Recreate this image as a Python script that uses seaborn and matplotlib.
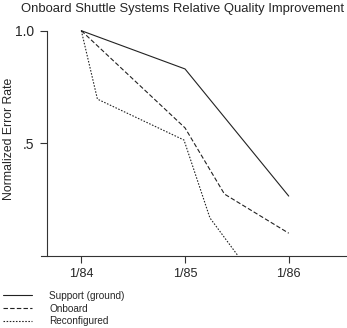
import matplotlib
matplotlib.use("Agg")
import matplotlib.pyplot as plt
import seaborn as sns
import pandas as pd

# ---- data ----
tick_pos = [0, 1, 2]
tick_labels = ["1/84", "1/85", "1/86"]
ytick_pos = [1.0, 0.5]
ytick_labels = ["1.0", ".5"]

support_x = [0, 1.0, 2.0]
support_y = [1.0, 0.83, 0.265]
onboard_x = [0, 1.0, 1.38, 2.0]
onboard_y = [1.0, 0.568, 0.274, 0.10]
reconf_x = [0, 0.155, 0.99, 1.24, 1.51]
reconf_y = [1.0, 0.696, 0.514, 0.168, 0.0]

series_names = ["Support (ground)", "Onboard", "Reconfigured"]

sns.set_style("white")
plt.rcParams['font.family'] = ['Liberation Sans', 'DejaVu Sans']

fig = plt.figure(figsize=(3.47, 3.28), dpi=100)
ax = fig.add_axes([41/347, (328-255.7)/328, (347-41)/347, 0.6997])

df_s = pd.DataFrame({"x": support_x, "y": support_y})
df_o = pd.DataFrame({"x": onboard_x, "y": onboard_y})
df_r = pd.DataFrame({"x": reconf_x, "y": reconf_y})

lw = 0.8
sns.lineplot(data=df_s, x="x", y="y", ax=ax, color="#222222", linewidth=lw,
             label=series_names[0], sort=False, clip_on=False)
sns.lineplot(data=df_o, x="x", y="y", ax=ax, color="#222222", linewidth=lw,
             label=series_names[1], sort=False, clip_on=False)
sns.lineplot(data=df_r, x="x", y="y", ax=ax, color="#222222", linewidth=lw,
             label=series_names[2], sort=False, clip_on=False)
lines = ax.get_lines()
lines[1].set_dashes([4, 2])
lines[2].set_dashes([1.4, 1.4])

ax.set_xlim(-0.389, 2.562)
ax.set_ylim(0, 1.02)
ax.set_xticks(tick_pos)
ax.set_xticklabels(tick_labels, fontsize=9.1)
ax.set_yticks(ytick_pos)
ax.set_yticklabels(ytick_labels, fontsize=9.1)
ax.set_xlabel("")
ax.set_ylabel("Normalized Error Rate", fontsize=8.8)
ax.yaxis.set_label_coords(-0.086, 0.508)

for s in ["top", "right"]:
    ax.spines[s].set_visible(False)
ax.spines["left"].set_position(("data", -0.334))
ax.spines["left"].set_bounds(0, 1.0)
for s in ["left", "bottom"]:
    ax.spines[s].set_color("#333333")
    ax.spines[s].set_linewidth(0.8)
ax.tick_params(axis="both", direction="out", length=5, width=0.8, color="#333333",
               pad=4, left=True, bottom=True)
ax.patch.set_alpha(0)

leg = ax.get_legend()
handles, labels = ax.get_legend_handles_labels()
leg.remove()
fig.legend(handles, labels, loc="lower left", bbox_to_anchor=(0.004, -0.001),
           frameon=False, fontsize=7.2, handlelength=2.9, handletextpad=1.7,
           labelspacing=0.27, borderaxespad=0.0, borderpad=0.2)

fig.suptitle("Onboard Shuttle Systems Relative Quality Improvement",
             fontsize=9.35, x=0.526, y=0.99, va="top")

fig.savefig("out.png", dpi=100)
